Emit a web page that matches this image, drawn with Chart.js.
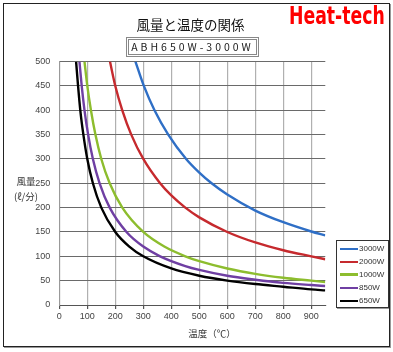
<!DOCTYPE html>
<html lang="ja">
<head>
<meta charset="UTF-8">
<title>風量と温度の関係</title>
<script src="https://cdn.jsdelivr.net/npm/chart.js"></script>
<style>
  body { margin:0; background:#fff; width:393px; height:352px; position:relative; overflow:hidden; font-family:"Noto Sans CJK JP", sans-serif; }
  #c { position:absolute; left:0; top:0; }
  #frame { position:absolute; left:3px; top:3px; width:385px; height:342px; border:1px solid #222; box-shadow:1px 1px 0 #999; pointer-events:none; }
  #title { position:absolute; left:0; width:381px; top:14px; text-align:center; font-size:13.5px; color:#111; }
  #sub { position:absolute; left:128px; top:39px; width:127px; height:14px; border:1px solid #888; outline:1px solid #888; outline-offset:1px; font-size:10.5px; line-height:14px; text-align:center; letter-spacing:3px; color:#222; }
  #brand { position:absolute; left:289px; top:1px; font-family:"Liberation Sans Narrow","DejaVu Sans Condensed","Liberation Sans",sans-serif; font-weight:bold; font-size:25px; color:#f00; transform-origin:left top; white-space:nowrap; }
  #ytitle { position:absolute; left:5px; top:174px; width:42px; text-align:center; font-size:9.5px; line-height:15px; color:#333; }
  #xtitle { position:absolute; left:170px; width:84px; top:326px; text-align:center; font-size:9.5px; line-height:14px; color:#333; }
  #legend { position:absolute; left:336px; top:240px; width:51px; height:66px; border:1px solid #333; box-shadow:1px 1px 0 #999; background:#fff; }
  .item { position:absolute; left:3px; height:10px; font-family:"Liberation Sans",sans-serif; font-size:8px; line-height:10px; color:#333; }
  .item span { display:inline-block; width:18px; height:2.5px; vertical-align:middle; margin-right:1px; }
</style>
</head>
<body>
<canvas id="c" width="393" height="352"></canvas>
<div id="title">風量と温度の関係</div>
<div id="sub">ABH650W-3000W</div>
<div id="brand">Heat-tech</div>
<div id="ytitle">風量<br>(ℓ/分)</div>
<div id="xtitle">温度（℃）</div>
<div id="legend"></div>
<div id="frame"></div>

<script>
// temperature (°C) / air flow (ℓ/min)
const seriesNames = ['3000W', '2000W', '1000W', '850W', '650W'];

const temp3000 = [272, 302, 340, 389, 453, 500, 544, 600, 700, 800, 900, 950];
const flow3000 = [500, 450, 400, 350, 300, 272, 250, 227, 194, 170, 151, 143];

const temp2000 = [181, 200, 225, 257, 300, 360, 400, 450, 500, 600, 700, 800, 900, 950];
const flow2000 = [500, 450, 400, 350, 300, 250, 225, 200, 180, 150, 128.5, 112.5, 100, 94];

const temp1000 = [90, 100, 113, 129, 150, 180, 225, 300, 375, 450, 500, 600, 700, 800, 900, 950];
const flow1000 = [500, 450, 400, 350, 300, 250, 200, 150, 120, 100, 90, 75, 64, 56, 50, 47];

const temp850 = [72, 80, 90, 103, 120, 144, 180, 240, 300, 360, 450, 500, 600, 700, 800, 900, 950];
const flow850 = [500, 450, 400, 350, 300, 250, 200, 150, 120, 100, 80, 72, 60, 52, 45.5, 41, 39];

const temp650 = [60, 67, 75, 86, 100, 120, 150, 200, 250, 300, 400, 500, 600, 700, 800, 900, 950];
const flow650 = [500, 450, 400, 350, 300, 250, 200, 150, 120, 100, 75, 60, 50, 43, 37.5, 32, 30];

const xTicks = [0, 100, 200, 300, 400, 500, 600, 700, 800, 900];
const yTicks = [0, 50, 100, 150, 200, 250, 300, 350, 400, 450, 500];

const colors = ['#2f6fc6', '#c62a2e', '#8dbd2e', '#6f3fa3', '#000000'];

const temps = [temp3000, temp2000, temp1000, temp850, temp650];
const flows = [flow3000, flow2000, flow1000, flow850, flow650];

const datasets = seriesNames.map((name, i) => ({
  label: name,
  data: temps[i].map((t, j) => ({ x: t, y: flows[i][j] })),
  borderColor: colors[i],
  backgroundColor: colors[i],
  borderWidth: 2.4,
  pointRadius: 0,
  cubicInterpolationMode: 'monotone',
  fill: false
}));

const tickFont = { family: "'Liberation Sans', sans-serif", size: 9 };

const chart = new Chart(document.getElementById('c'), {
  type: 'line',
  data: { datasets: datasets },
  options: {
    responsive: false,
    animation: false,
    devicePixelRatio: 1,
    layout: { padding: { left: 0, top: 61.6, right: 67.7, bottom: 0 } },
    plugins: { legend: { display: false }, tooltip: { enabled: false } },
    scales: {
      x: {
        type: 'linear', min: 0, max: 950,
        afterFit: s => { s.height = 47; },
        afterBuildTicks: s => { s.ticks = xTicks.map(v => ({ value: v })); },
        grid: { color: '#b0b0b0', lineWidth: 1.2, tickLength: 4, tickColor: '#555' },
        border: { color: '#555', width: 1 },
        ticks: { color: '#444', font: tickFont, padding: 2, maxRotation: 0 }
      },
      y: {
        min: 0, max: 500,
        afterFit: s => { s.width = 59.3; },
        afterBuildTicks: s => { s.ticks = yTicks.map(v => ({ value: v })); },
        grid: { color: '#6a6a6a', lineWidth: 1, drawTicks: false },
        border: { color: '#999', width: 1 },
        ticks: { color: '#444', font: tickFont, padding: 9 }
      }
    }
  }
});

// legend built from the datasets
const legend = document.getElementById('legend');
const rowTop = [3, 16, 28.5, 42, 55];
chart.data.datasets.forEach((d, i) => {
  const row = document.createElement('div');
  row.className = 'item';
  row.style.top = rowTop[i] + 'px';
  row.innerHTML = '<span style="background:' + d.borderColor + '"></span>' + d.label;
  legend.appendChild(row);
});

// squeeze the brand text to its width in the picture
const brand = document.getElementById('brand');
brand.style.transform = 'scale(' + (96 / brand.offsetWidth) + ',1)';
</script>
</body>
</html>
